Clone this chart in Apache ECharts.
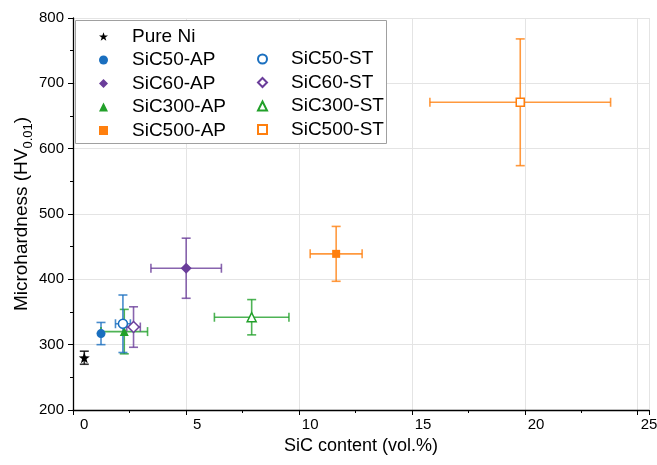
<!DOCTYPE html>
<html>
<head>
<meta charset="UTF-8">
<script src="https://cdn.jsdelivr.net/npm/echarts@6/dist/echarts.min.js"></script>
<style>
  * { margin: 0; padding: 0; }
  body { background: #fff; }
  #chart { width: 657px; height: 465px; }
</style>
</head>
<body>
<div id="chart"></div>
<script>
// 数据：[x, y, xerr, yerr]
var names = ['Pure Ni', 'SiC50-AP', 'SiC60-AP', 'SiC300-AP', 'SiC500-AP',
             'SiC50-ST', 'SiC60-ST', 'SiC300-ST', 'SiC500-ST'];
var pureNi   = [[0, 280, 0, 10]];
var sic50AP  = [[0.74, 317, 0, 17]];
var sic60AP  = [[4.51, 417, 1.56, 46]];
var sic300AP = [[1.77, 320, 1.03, 34]];
var sic500AP = [[11.15, 439, 1.15, 42]];
var sic50ST  = [[1.71, 332, 0.33, 44]];
var sic60ST  = [[2.18, 327, 0.30, 31]];
var sic300ST = [[7.41, 342, 1.65, 27]];
var sic500ST = [[19.3, 671, 4.0, 97]];

var blue = '#1a6fbf', purple = '#6a3d9a', green = '#22a02a', orange = '#ff7f0e';
var star = 'path://M0,-10 L2.35,-3.24 L9.51,-3.09 L3.8,1.24 L5.88,8.09 L0,4 L-5.88,8.09 L-3.8,1.24 L-9.51,-3.09 L-2.35,-3.24 Z';

var defs = [
  { name: 'Pure Ni',   data: pureNi,   color: '#000', symbol: star,       open: false, size: 11 },
  { name: 'SiC50-AP',  data: sic50AP,  color: blue,   symbol: 'circle',   open: false, size: 9 },
  { name: 'SiC60-AP',  data: sic60AP,  color: purple, symbol: 'diamond',  open: false, size: 11 },
  { name: 'SiC300-AP', data: sic300AP, color: green,  symbol: 'triangle', open: false, size: 9 },
  { name: 'SiC500-AP', data: sic500AP, color: orange, symbol: 'rect',     open: false, size: 8 },
  { name: 'SiC50-ST',  data: sic50ST,  color: blue,   symbol: 'circle',   open: true,  size: 9 },
  { name: 'SiC60-ST',  data: sic60ST,  color: purple, symbol: 'diamond',  open: true,  size: 11 },
  { name: 'SiC300-ST', data: sic300ST, color: green,  symbol: 'triangle', open: true,  size: 9 },
  { name: 'SiC500-ST', data: sic500ST, color: orange, symbol: 'rect',     open: true,  size: 8 }
];

function errRender(color) {
  return function (params, api) {
    var x = api.value(0), y = api.value(1), ex = api.value(2), ey = api.value(3);
    var c = api.coord([x, y]);
    var children = [];
    var st = { stroke: color, lineWidth: 1.6, opacity: 0.8 };
    var cap = 4.5;
    if (ey > 0) {
      var t = api.coord([x, y + ey]), b = api.coord([x, y - ey]);
      children.push({ type: 'line', shape: { x1: c[0], y1: t[1], x2: c[0], y2: b[1] }, style: st });
      children.push({ type: 'line', shape: { x1: c[0] - cap, y1: t[1], x2: c[0] + cap, y2: t[1] }, style: st });
      children.push({ type: 'line', shape: { x1: c[0] - cap, y1: b[1], x2: c[0] + cap, y2: b[1] }, style: st });
    }
    if (ex > 0) {
      var l = api.coord([x - ex, y]), r = api.coord([x + ex, y]);
      children.push({ type: 'line', shape: { x1: l[0], y1: c[1], x2: r[0], y2: c[1] }, style: st });
      children.push({ type: 'line', shape: { x1: l[0], y1: c[1] - cap, x2: l[0], y2: c[1] + cap }, style: st });
      children.push({ type: 'line', shape: { x1: r[0], y1: c[1] - cap, x2: r[0], y2: c[1] + cap }, style: st });
    }
    return { type: 'group', children: children };
  };
}

var series = [];
defs.forEach(function (d) {
  series.push({
    type: 'scatter',
    name: d.name,
    data: d.data.map(function (p) { return [p[0], p[1]]; }),
    symbol: d.symbol,
    symbolSize: d.size,
    z: 5,
    itemStyle: d.open
      ? { color: '#fff', borderColor: d.color, borderWidth: 1.5, opacity: 1 }
      : { color: d.color, opacity: 1 }
  });
});
// 误差棒
defs.forEach(function (d) {
  series.push({
    type: 'custom',
    name: d.name + ' err',
    renderItem: errRender(d.color),
    data: d.data,
    encode: { x: 0, y: 1 },
    z: 2,
    silent: true
  });
});

var font = 'Liberation Sans, Arial, sans-serif';
var legendText = { fontSize: 19, color: '#000', fontFamily: font, padding: [0, 0, 0, 19] };

var option = {
  animation: false,
  grid: { left: 73, right: 8, top: 18, bottom: 55, outerBoundsMode: 'none' },
  xAxis: {
    type: 'value', min: -0.5, max: 25, interval: 5,
    name: 'SiC content (vol.%)', nameLocation: 'middle', nameGap: 23,
    nameTextStyle: { fontSize: 18, color: '#000', fontFamily: font },
    axisLine: { onZero: false, lineStyle: { color: '#000', width: 1.3 } },
    axisTick: { inside: false, length: 5, lineStyle: { color: '#000' } },
    minorTick: { show: true, splitNumber: 2, length: 3, lineStyle: { color: '#000' } },
    axisLabel: { fontSize: 15, color: '#000', fontFamily: font, margin: 7,
      customValues: [0, 5, 10, 15, 20, 25] },
    splitLine: { show: true, lineStyle: { color: '#e4e4e4' } }
  },
  yAxis: {
    type: 'value', min: 200, max: 800, interval: 100,
    name: '{a|Microhardness (HV}{s|0.01}{a|)}', nameLocation: 'middle', nameGap: 38,
    nameMoveOverlap: false,
    nameTextStyle: {
      fontSize: 19, color: '#000', fontFamily: font,
      rich: {
        a: { fontSize: 19, fontFamily: font, color: '#000', lineHeight: 26 },
        s: { fontSize: 13, fontFamily: font, color: '#000', lineHeight: 13, verticalAlign: 'bottom' }
      }
    },
    axisLine: { show: true, onZero: false, lineStyle: { color: '#000', width: 1.3 } },
    axisTick: { inside: false, length: 5, lineStyle: { color: '#000' } },
    minorTick: { show: true, splitNumber: 2, length: 3, lineStyle: { color: '#000' } },
    axisLabel: { fontSize: 15, color: '#000', fontFamily: font, margin: 9 },
    splitLine: { show: true, lineStyle: { color: '#e4e4e4' } }
  },
  legend: [
    {
      data: names.slice(0, 5), orient: 'vertical', left: 94, top: 22,
      itemWidth: 9, itemHeight: 9, itemGap: 4.5, textStyle: legendText
    },
    {
      data: names.slice(5), orient: 'vertical', left: 252, top: 44.5,
      itemWidth: 9, itemHeight: 9, itemGap: 4.5, textStyle: legendText
    }
  ],
  graphic: [{
    type: 'rect', left: 75, top: 20, z: 1,
    shape: { width: 311, height: 123 },
    style: { fill: '#fff', stroke: '#a0a0a0', lineWidth: 1 }
  }],
  series: series
};

var chart = echarts.init(document.getElementById('chart'));
chart.setOption(option);
</script>
</body>
</html>
